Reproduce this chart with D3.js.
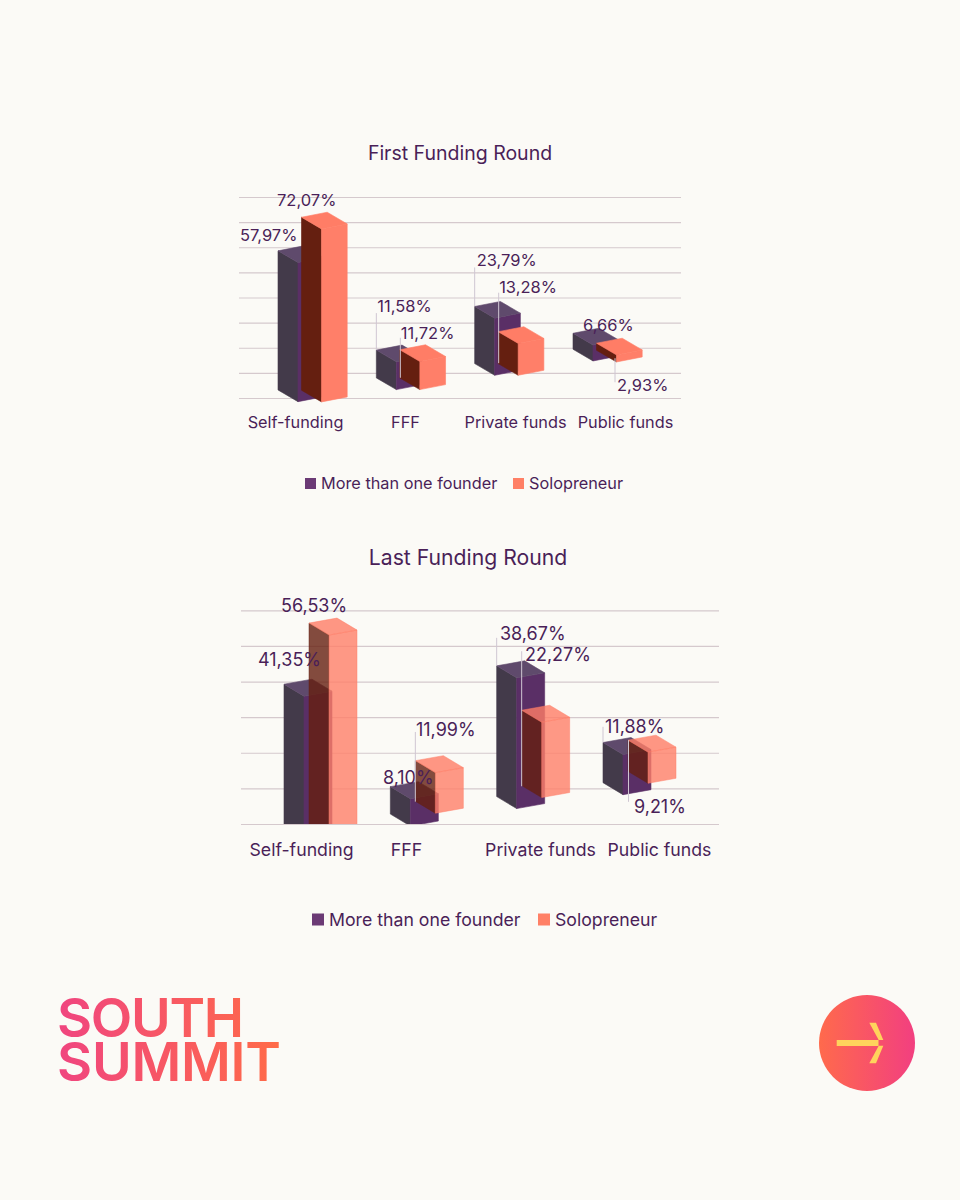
<!DOCTYPE html>
<html>
<head>
<meta charset="utf-8">
<script src="https://cdn.jsdelivr.net/npm/d3@7"></script>
<style>
    html, body { margin: 0; padding: 0; background: #fbfaf6; }
    svg { display: block; }
    text { font-family: Inter, "Noto Sans", sans-serif; fill: #4a1f58; }
</style>
</head>
<body>
<div id="container"></div>
<script>
// Categories and series
const categories = ["Self-funding", "FFF", "Private funds", "Public funds"];
const seriesNames = ["More than one founder", "Solopreneur"];

// First funding round, in %
const firstMore = [57.97, 11.58, 23.79, 6.66];
const firstSolo = [72.07, 11.72, 13.28, 2.93];
// the 3D boxes float above the axis in the picture, height of their foot in %
const firstMoreLift = [3.2, 8.0, 13.7, 19.4];
const firstSoloLift = [3.1, 8.0, 13.7, 19.0];

// Last funding round, in %
const lastMore = [41.35, 8.10, 38.67, 11.88];
const lastSolo = [56.53, 11.99, 22.27, 9.21];
const lastMoreLift = [0, 2.8, 7.7, 11.6];
const lastSoloLift = [0, 6.4, 10.8, 14.8];

const firstTicks = [0, 10, 20, 30, 40, 50, 60, 70, 80];
const lastTicks = [0, 10, 20, 30, 40, 50, 60];

const fmt = v => v.toFixed(2).replace(".", ",") + "%";

// Label placement relative to the box corner: [dx, dy, leaderDx, leaderFrom, leaderTo]
const firstMoreLabels = [[-38, -10], [1, -38, 0, -37, 0], [2, -40.5, 0, -39, 0], [10, -2]];
const firstSoloLabels = [[-24.5, -11], [1, -11, 0.5, -12, 28], [1, -38.7, 0.5, -39, 31.5], [20.5, 47.7, 18.5, 15, 39]];
const lastMoreLabels = [[-26, -18], [-7.4, -2.7], [3.3, -26, 0, -28, 0], [2, -9.7, 0, -15.7, 0]];
const lastSoloLabels = [[-28, -11], [0.6, -24.7, 0, -28.7, 41], [3.3, -49.7, 0, -59, 76], [6, 73, 0.5, 0, 61.7]];

const svg = d3.select("#container").append("svg")
    .attr("width", 960)
    .attr("height", 1200);

const defs = svg.append("defs");

function addGradient(id, x1, x2, from, to) {
    const g = defs.append("linearGradient")
        .attr("id", id)
        .attr("gradientUnits", "userSpaceOnUse")
        .attr("x1", x1).attr("x2", x2).attr("y1", 0).attr("y2", 0);
    g.append("stop").attr("offset", "0%").attr("stop-color", from);
    g.append("stop").attr("offset", "100%").attr("stop-color", to);
}
addGradient("logoGrad", 59, 279, "#f0457f", "#ff6b48");
addGradient("circleGrad", 819, 915, "#ff6a4c", "#f23f80");

const moreColors = { left: "#433a4a", right: "#5a2f66", top: "#5f4a6c" };
const soloColors = { left: "#651f10", right: "#ff7f69", top: "#ff7d66" };

function drawChart(c) {
    const g = svg.append("g");

    g.append("text")
        .attr("x", c.titleX)
        .attr("y", c.titleY)
        .attr("text-anchor", "middle")
        .style("font-size", c.titleSize + "px")
        .text(c.title);

    const y = d3.scaleLinear().domain(c.yDomain).range(c.yRange);
    const x = d3.scalePoint().domain(categories).range(c.xRange);
    const labelX = d3.scaleOrdinal().domain(categories).range(c.labelX);

    // Gridlines
    const grid = g.append("g")
        .attr("transform", `translate(${c.gridLeft},0)`)
        .call(d3.axisLeft(y).tickValues(c.ticks).tickSize(-(c.gridRight - c.gridLeft)).tickFormat(""));
    grid.select(".domain").remove();
    grid.selectAll("line").attr("stroke", "#d5c9cd").attr("stroke-width", 1.2);

    // Category labels
    const axis = g.append("g")
        .attr("transform", `translate(0,${c.axisY})`)
        .call(d3.axisBottom(labelX).tickSize(0).tickPadding(0));
    axis.select(".domain").remove();
    axis.selectAll("text")
        .attr("fill", null)
        .style("font-family", "Inter")
        .style("font-size", c.fontSize + "px");

    // Boxes
    const clipId = "clip" + c.id;
    if (c.clipBottom) {
        defs.append("clipPath").attr("id", clipId).append("rect")
            .attr("x", 0).attr("y", 0).attr("width", 960).attr("height", c.clipBottom);
    }
    const boxes = g.append("g");
    if (c.clipBottom) boxes.attr("clip-path", `url(#${clipId})`);

    const corner = (vals, lift, off) => categories.map((d, i) => ({
        x: x(d) + off,
        top: y(lift[i]) - c.barHeight(vals[i]),
        h: c.barHeight(vals[i])
    }));
    const moreBoxes = corner(c.more, c.moreLift, 0);
    const soloBoxes = corner(c.solo, c.soloLift, c.soloOffset);

    function box(parent, b, colors, opacity) {
        const [dx, dy] = c.depth;
        const [wx, wy] = c.wide;
        const face = (pts, fill) => parent.append("polygon")
            .attr("points", pts.map(p => p.join(",")).join(" "))
            .attr("fill", fill)
            .attr("stroke", fill)
            .attr("stroke-width", 0.6)
            .attr("stroke-linejoin", "round")
            .attr("fill-opacity", opacity)
            .attr("stroke-opacity", opacity);
        const t = b.top;
        face([[b.x, t], [b.x + dx, t + dy], [b.x + dx, t + dy + b.h], [b.x, t + b.h]], colors.left);
        face([[b.x + dx, t + dy], [b.x + dx + wx, t + dy + wy], [b.x + dx + wx, t + dy + wy + b.h], [b.x + dx, t + dy + b.h]], colors.right);
        face([[b.x, t], [b.x + wx, t + wy], [b.x + dx + wx, t + dy + wy], [b.x + dx, t + dy]], colors.top);
    }

    categories.forEach((d, i) => {
        box(boxes, moreBoxes[i], moreColors, 1);
        box(boxes, soloBoxes[i], soloColors, c.soloOpacity);
    });

    // Leader lines and value labels
    function labels(list, vals, layout) {
        list.forEach((b, i) => {
            const l = layout[i];
            if (l.length > 2) {
                g.append("line")
                    .attr("x1", b.x + l[2]).attr("x2", b.x + l[2])
                    .attr("y1", b.top + l[3]).attr("y2", b.top + l[4])
                    .attr("stroke", "#cfc6d2")
                    .attr("stroke-width", 1);
            }
        });
        list.forEach((b, i) => {
            const l = layout[i];
            g.append("text")
                .attr("x", b.x + l[0])
                .attr("y", b.top + l[1])
                .style("font-size", c.valueSize + "px")
                .text(fmt(vals[i]));
        });
    }
    labels(moreBoxes, c.more, c.moreLabels);
    labels(soloBoxes, c.solo, c.soloLabels);

    // Legend
    seriesNames.forEach((name, i) => {
        g.append("rect")
            .attr("x", c.legendSquares[i])
            .attr("y", c.legendY - c.squareSize)
            .attr("width", c.squareSize)
            .attr("height", c.squareSize)
            .attr("fill", i === 0 ? "#6b3a75" : "#ff8066");
        g.append("text")
            .attr("x", c.legendTexts[i])
            .attr("y", c.legendY)
            .style("font-size", c.fontSize + "px")
            .text(name);
    });
}

drawChart({
    id: 1,
    title: "First Funding Round", titleX: 460, titleY: 159.5, titleSize: 19.5,
    more: firstMore, solo: firstSolo, moreLift: firstMoreLift, soloLift: firstSoloLift,
    moreLabels: firstMoreLabels, soloLabels: firstSoloLabels,
    ticks: firstTicks, yDomain: [0, 80], yRange: [398, 197],
    barHeight: d3.scaleLinear().domain([0, 80]).range([0, 192]),
    xRange: [278, 573], soloOffset: 23.5, depth: [20, 11.7], wide: [25.7, -5], soloOpacity: 1,
    gridLeft: 239, gridRight: 681,
    labelX: [295, 405, 515, 625], axisY: 416, fontSize: 16.3, valueSize: 16.5,
    legendSquares: [305, 513], legendTexts: [321, 529], legendY: 489, squareSize: 11
});

drawChart({
    id: 2,
    title: "Last Funding Round", titleX: 468, titleY: 564.5, titleSize: 21.2,
    more: lastMore, solo: lastSolo, moreLift: lastMoreLift, soloLift: lastSoloLift,
    moreLabels: lastMoreLabels, soloLabels: lastSoloLabels,
    ticks: lastTicks, yDomain: [0, 60], yRange: [824, 610.3],
    barHeight: d3.scaleLinear().domain([0, 42, 60]).range([0, 142, 215]),
    xRange: [284, 603], soloOffset: 25, depth: [20, 12], wide: [28, -5], soloOpacity: 0.8,
    clipBottom: 824,
    gridLeft: 241, gridRight: 719,
    labelX: [301, 406, 540, 659], axisY: 843, fontSize: 17.7, valueSize: 18,
    legendSquares: [312, 538], legendTexts: [329, 555], legendY: 925.5, squareSize: 12
});

// Logo
svg.append("text")
    .attr("x", 57).attr("y", 1037)
    .attr("textLength", 187)
    .style("font-size", "54px").style("font-weight", 600)
    .style("fill", "url(#logoGrad)")
    .text("SOUTH");
svg.append("text")
    .attr("x", 57).attr("y", 1081)
    .attr("textLength", 224)
    .style("font-size", "54px").style("font-weight", 600)
    .style("fill", "url(#logoGrad)")
    .text("SUMMIT");

// Arrow button
svg.append("circle")
    .attr("cx", 867).attr("cy", 1043).attr("r", 48)
    .attr("fill", "url(#circleGrad)");
const arrow = [
    [[836.7, 1040], [878.5, 1040], [878.5, 1046], [836.7, 1046]],
    [[869.3, 1022.7], [876, 1022.7], [883.3, 1040], [878.7, 1040]],
    [[878.7, 1045.7], [883.3, 1045.7], [876, 1063.3], [869.3, 1063.3]]
];
svg.selectAll(".arrow")
    .data(arrow)
    .enter().append("polygon")
    .attr("class", "arrow")
    .attr("points", d => d.map(p => p.join(",")).join(" "))
    .attr("fill", "#ffd35c");
</script>
</body>
</html>
